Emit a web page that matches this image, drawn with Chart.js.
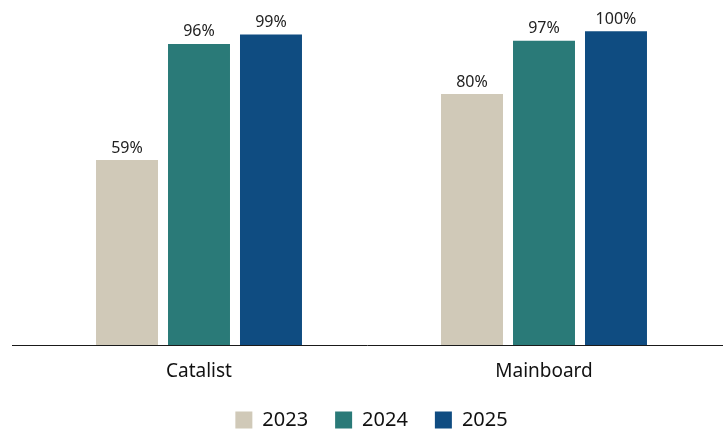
<!DOCTYPE html>
<html><head><meta charset="utf-8">
<script src="https://cdn.jsdelivr.net/npm/chart.js@4"></script>
<style>html,body{margin:0;padding:0;background:#fff}#wrap{width:723px;height:429px}</style>
</head><body><div id="wrap"><canvas id="c" width="723" height="429"></canvas></div>
<script>
const categories = ["Catalist", "Mainboard"];
const seriesNames = ["2023", "2024", "2025"];
const values2023 = [59, 80];
const values2024 = [96, 97];
const values2025 = [99, 100];
const colors = ["#D0C9B8", "#2A7A78", "#0F4C81"];
const FONT = "'Noto Sans', sans-serif";

const baseline = {
  id: 'baseline',
  afterDatasetsDraw(chart) {
    const ctx = chart.ctx, a = chart.chartArea;
    ctx.save();
    ctx.strokeStyle = '#1a1a1a'; ctx.lineWidth = 1;
    ctx.beginPath(); ctx.moveTo(12, Math.round(a.bottom) + 0.5); ctx.lineTo(chart.width, Math.round(a.bottom) + 0.5); ctx.stroke();
    ctx.restore();
  }
};
const labels = {
  id: 'vlabels',
  afterDatasetsDraw(chart) {
    const ctx = chart.ctx;
    ctx.save();
    ctx.font = "16px " + FONT; ctx.fillStyle = '#222';
    ctx.textAlign = 'center'; ctx.textBaseline = 'bottom';
    chart.data.datasets.forEach((ds, i) => {
      chart.getDatasetMeta(i).data.forEach((el, j) => {
        ctx.fillText(ds.data[j] + '%', el.x, el.y - 4);
      });
    });
    ctx.restore();
  }
};

new Chart(document.getElementById('c'), {
  type: 'bar',
  data: {
    labels: categories,
    datasets: [
      { label: seriesNames[0], data: values2023, backgroundColor: colors[0] },
      { label: seriesNames[1], data: values2024, backgroundColor: colors[1] },
      { label: seriesNames[2], data: values2025, backgroundColor: colors[2] }
    ]
  },
  options: {
    responsive: false, animation: false,
    layout: { padding: { left: 26.5, right: 6.5, top: 0, bottom: -11 } },
    datasets: { bar: { categoryPercentage: 0.626, barPercentage: 0.861 } },
    scales: {
      y: { display: false, min: 0, max: 110 },
      x: { grid: { display: false }, border: { display: false },
           afterFit(scale) { scale.height = 38; },
           ticks: { color: '#111', font: { family: FONT, size: 19 }, padding: 7 } }
    },
    plugins: {
      tooltip: { enabled: false },
      legend: { position: 'bottom',
        labels: { boxWidth: 17, boxHeight: 17, color: '#111', padding: 27,
                  font: { family: FONT, size: 20 } } }
    }
  },
  plugins: [baseline, labels]
});
</script></body></html>
